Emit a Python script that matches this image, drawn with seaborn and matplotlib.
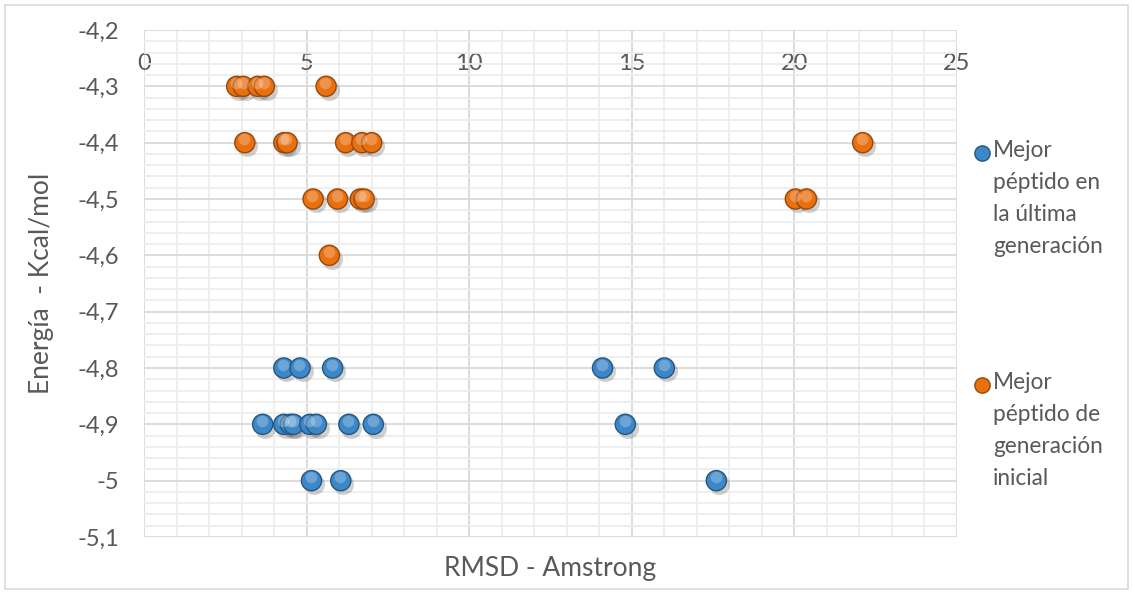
import matplotlib
matplotlib.use("Agg")
import matplotlib.pyplot as plt
import pandas as pd
import seaborn as sns
from matplotlib.ticker import FuncFormatter, MultipleLocator
from matplotlib.lines import Line2D
from matplotlib.patches import Rectangle

sns.set_style("white")
plt.rcParams['font.family'] = ['Lato', 'DejaVu Sans']

# datos
rmsd_ultima = [4.3, 4.8, 5.8, 14.1, 16.0,
               3.65, 4.3, 4.5, 4.6, 5.1, 5.3, 6.3, 7.05, 14.8,
               5.15, 6.05, 17.6]
energia_ultima = [-4.8, -4.8, -4.8, -4.8, -4.8,
                  -4.9, -4.9, -4.9, -4.9, -4.9, -4.9, -4.9, -4.9, -4.9,
                  -5.0, -5.0, -5.0]
rmsd_inicial = [2.85, 3.05, 3.5, 3.7, 5.6,
                3.1, 4.3, 4.4, 6.2, 6.7, 7.0, 22.1,
                5.2, 5.95, 6.65, 6.77, 20.03, 20.37,
                5.7]
energia_inicial = [-4.3, -4.3, -4.3, -4.3, -4.3,
                   -4.4, -4.4, -4.4, -4.4, -4.4, -4.4, -4.4,
                   -4.5, -4.5, -4.5, -4.5, -4.5, -4.5,
                   -4.6]
series = ["Mejor\npéptido en\nla última\ngeneración",
          "Mejor\npéptido de\ngeneración\ninicial"]
colores = ["#3C87C8", "#E8700F"]
bordes = ["#26567F", "#97480B"]

df = pd.DataFrame({
    "RMSD": rmsd_ultima + rmsd_inicial,
    "Energia": energia_ultima + energia_inicial,
    "Serie": [series[0]] * len(rmsd_ultima) + [series[1]] * len(rmsd_inicial),
})

gris = "#595959"
fig = plt.figure(figsize=(11.33, 5.94), dpi=100)
ax = fig.add_axes([144 / 1133, 1 - 537 / 594, (957 - 144) / 1133, (537 - 30) / 594])

# sombra de los marcadores
for i, s in enumerate(series):
    sub = df[df["Serie"] == s]
    ax.scatter(sub["RMSD"] + 0.08, sub["Energia"] - 0.006, s=230, color="#000000",
               alpha=0.18, linewidths=0, zorder=3)

sns.scatterplot(data=df, x="RMSD", y="Energia", hue="Serie", palette=colores,
                s=210, ax=ax, legend=False, zorder=4, linewidth=1.0,
                edgecolor=[bordes[series.index(v)] for v in df["Serie"]])
# brillo
ax.scatter(df["RMSD"] - 0.02, df["Energia"] + 0.006, s=70, color="white",
           alpha=0.25, linewidths=0, zorder=5)

ax.set_xlim(0, 25)
ax.set_ylim(-5.1, -4.2)
ax.xaxis.set_major_locator(MultipleLocator(5))
ax.xaxis.set_minor_locator(MultipleLocator(1))
ax.yaxis.set_major_locator(MultipleLocator(0.1))
ax.yaxis.set_minor_locator(MultipleLocator(0.02))
ax.grid(which="major", color="#D9D9D9", linewidth=1.3, zorder=1)
ax.grid(which="minor", color="#EDEDED", linewidth=1.3, zorder=0)
ax.set_axisbelow(True)
for sp in ax.spines.values():
    sp.set_visible(False)

ax.yaxis.set_major_formatter(FuncFormatter(lambda v, p: f"{round(v, 1):g}".replace(".", ",")))
ax.tick_params(axis="y", length=0, pad=18, labelsize=17, labelcolor=gris)
ax.tick_params(axis="x", length=0, labeltop=True, labelbottom=False, top=False,
               bottom=False, pad=-32, labelsize=17, labelcolor=gris)

ax.set_xlabel("RMSD - Amstrong", fontsize=19, color=gris, labelpad=8)
ax.set_ylabel("Energía  - Kcal/mol", fontsize=19, color=gris, labelpad=17)
ax.xaxis.set_label_position("bottom")

# leyenda
for i, (s, y0) in enumerate(zip(series, [153, 385])):
    yf = 1 - y0 / 594
    fig.add_artist(Line2D([982 / 1133], [yf], marker="o", markersize=11,
                          markerfacecolor=colores[i], markeredgecolor=bordes[i],
                          linestyle="none", transform=fig.transFigure))
    fig.text(993 / 1133, yf + 13 / 594, s, fontsize=16.3, color=gris, va="top",
             ha="left", linespacing=1.65)

fig.add_artist(Rectangle((5 / 1133, 5 / 594), 1123 / 1133, 584 / 594,
                         transform=fig.transFigure, fill=False,
                         edgecolor="#D9D9D9", linewidth=1.2))

fig.savefig("out.png", dpi=100)
